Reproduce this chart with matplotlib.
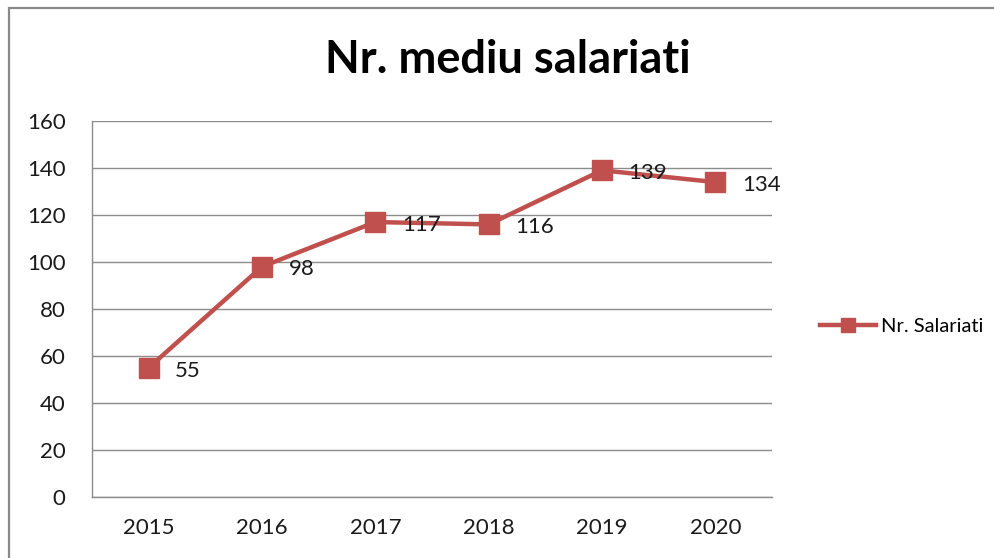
import matplotlib
matplotlib.use("Agg")
import matplotlib.pyplot as plt
from matplotlib.patches import Rectangle

years = ["2015", "2016", "2017", "2018", "2019", "2020"]
salariati = [55, 98, 117, 116, 139, 134]
series_name = "Nr. Salariati"
title = "Nr. mediu salariati"
yticks = [0, 20, 40, 60, 80, 100, 120, 140, 160]

plt.rcParams['font.family'] = ['Lato', 'DejaVu Sans']
W, H = 995, 558
fig = plt.figure(figsize=(W / 100, H / 100), dpi=100)
fig.patch.set_facecolor('white')

# outer chart border
fig.patches.append(Rectangle((9 / W, -0.1), 1.2, (H - 8) / H + 0.1, transform=fig.transFigure,
                             fill=False, edgecolor='#8a8a8a', linewidth=1.6))

ax = fig.add_axes([92 / W, 1 - 497 / H, (772 - 92) / W, (497 - 121) / H])
color = '#C0504D'
x = list(range(len(years)))
ax.plot(x, salariati, color=color, linewidth=3.2, marker='s', markersize=14,
        markeredgecolor=color, markerfacecolor=color, label=series_name, zorder=3)
for xi, v in zip(x, salariati):
    ax.annotate(str(v), (xi, v), xytext=(19, -2), textcoords='offset points',
                ha='left', va='center', fontsize=16, color='#1a1a1a', zorder=4)

ax.set_xlim(-0.5, len(years) - 0.5)
ax.set_ylim(0, 160)
ax.set_yticks(yticks)
ax.set_xticks(x)
ax.set_xticklabels(years)
ax.tick_params(axis='both', length=0, labelsize=16, colors='#1a1a1a')
ax.tick_params(axis='x', pad=15)
ax.tick_params(axis='y', pad=19)
ax.grid(axis='y', color='#8c8c8c', linewidth=1)
ax.set_axisbelow(True)
for s in ['top', 'right']:
    ax.spines[s].set_visible(False)
for s in ['left', 'bottom']:
    ax.spines[s].set_color('#8c8c8c')
    ax.spines[s].set_linewidth(1)

fig.text(508 / W, 1 - 60 / H, title, ha='center', va='center', fontsize=32.5,
         fontweight='bold', color='black')

fig.legend(loc='center left', bbox_to_anchor=(810 / W, 1 - 326 / H), frameon=False,
           fontsize=14.5, handlelength=2.8, handletextpad=0.25, borderpad=0,
           markerscale=0.7)

fig.savefig('out.png', dpi=100)
